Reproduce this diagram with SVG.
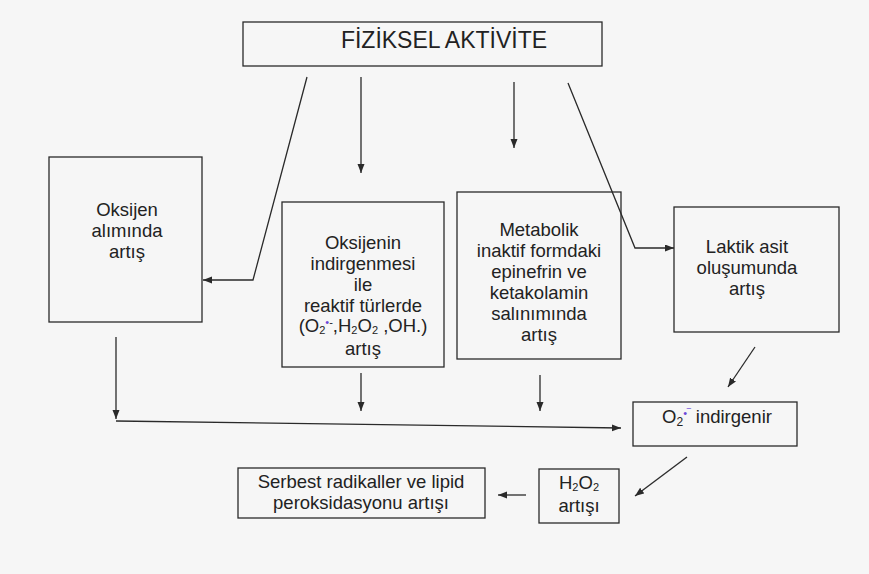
<svg xmlns="http://www.w3.org/2000/svg" width="869" height="574" viewBox="0 0 869 574">
<defs>
<style>
.box{fill:none;stroke:#2a2a2a;stroke-width:1.3}
.t{font-family:"Liberation Sans",Arial,sans-serif;font-size:18.5px;fill:#222;text-anchor:middle}
.c{fill:none;stroke:#2a2a2a;stroke-width:1.3;marker-end:url(#ah)}
.p{fill:#6a48d8}
</style>
<marker id="ah" markerUnits="userSpaceOnUse" markerWidth="10" markerHeight="8" refX="9" refY="3.5" orient="auto">
<path d="M0,0 L9,3.5 L0,7 z" fill="#2a2a2a"/>
</marker>
</defs>
<rect width="869" height="574" fill="#f6f6f6"/>

<g id="connectors">
<polyline class="c" points="307,77 253,280 203,280"/>
<line class="c" x1="361" y1="77" x2="361" y2="173"/>
<line class="c" x1="514" y1="82" x2="514" y2="148"/>
<polyline class="c" points="568,83 635,248 674,248"/>
<line class="c" x1="116" y1="337" x2="116" y2="419"/>
<line class="c" x1="116" y1="421" x2="621" y2="428"/>
<line class="c" x1="361" y1="373" x2="361" y2="411"/>
<line class="c" x1="540" y1="375" x2="540" y2="411"/>
<line class="c" x1="755" y1="347" x2="728" y2="387"/>
<line class="c" x1="687" y1="457" x2="635" y2="496"/>
<line class="c" x1="526" y1="495" x2="498" y2="495"/>
</g>

<g id="fiziksel-aktivite">
<rect class="box" x="243" y="22" width="359" height="44"/>
<text class="t" x="444" y="48" style="font-size:23px">FİZİKSEL AKTİVİTE</text>
</g>

<g id="oksijen-alimi">
<rect class="box" x="49" y="157" width="153" height="165"/>
<text class="t" x="127" y="216">Oksijen</text>
<text class="t" x="127" y="237">alımında</text>
<text class="t" x="127" y="258">artış</text>
</g>

<g id="oksijenin-indirgenmesi">
<rect class="box" x="282" y="202" width="162" height="165"/>
<text class="t" x="363" y="249">Oksijenin</text>
<text class="t" x="363" y="270">indirgenmesi</text>
<text class="t" x="363" y="291">ile</text>
<text class="t" x="363" y="312">reaktif türlerde</text>
<text class="t" x="363" y="332">(O<tspan dy="2" font-size="11">2</tspan><tspan dy="-8" font-size="11" class="p">•</tspan><tspan font-size="11">-</tspan><tspan dy="6">,H</tspan><tspan dy="2" font-size="11">2</tspan><tspan dy="-2">O</tspan><tspan dy="2" font-size="11">2</tspan><tspan dy="-2"> ,OH.)</tspan></text>
<text class="t" x="363" y="355">artış</text>
</g>

<g id="metabolik">
<rect class="box" x="457" y="192" width="164" height="167"/>
<text class="t" x="539" y="236">Metabolik</text>
<text class="t" x="539" y="257">inaktif formdaki</text>
<text class="t" x="539" y="278">epinefrin ve</text>
<text class="t" x="539" y="299">ketakolamin</text>
<text class="t" x="539" y="320">salınımında</text>
<text class="t" x="539" y="341">artış</text>
</g>

<g id="laktik-asit">
<rect class="box" x="674" y="207" width="165" height="125"/>
<text class="t" x="747" y="253">Laktik asit</text>
<text class="t" x="747" y="274">oluşumunda</text>
<text class="t" x="747" y="295">artış</text>
</g>

<g id="o2-indirgenir">
<rect class="box" x="633" y="402" width="164" height="44"/>
<text class="t" x="717" y="423">O<tspan dy="3" font-size="12">2</tspan><tspan dy="-9" font-size="11" class="p">•‾</tspan><tspan dy="6"> indirgenir</tspan></text>
</g>

<g id="h2o2-artisi">
<rect class="box" x="539" y="469" width="80" height="54"/>
<text class="t" x="579" y="489">H<tspan dy="2" font-size="11">2</tspan><tspan dy="-2">O</tspan><tspan dy="2" font-size="11">2</tspan></text>
<text class="t" x="579" y="512">artışı</text>
</g>

<g id="serbest-radikaller">
<rect class="box" x="238" y="468" width="247" height="50"/>
<text class="t" x="361" y="488">Serbest radikaller ve lipid</text>
<text class="t" x="361" y="509">peroksidasyonu artışı</text>
</g>
</svg>
